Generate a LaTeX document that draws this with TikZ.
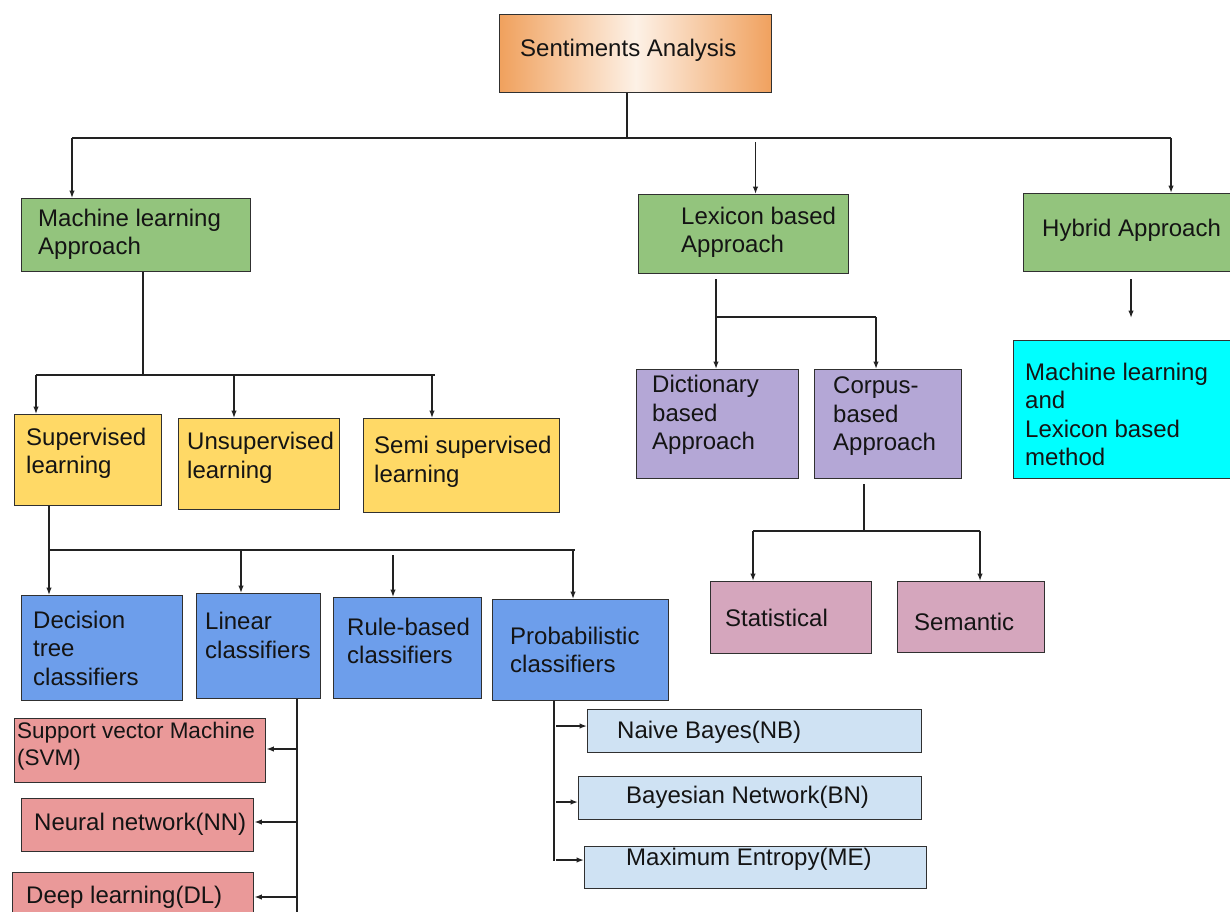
\documentclass[tikz,border=0pt]{standalone}
\usepackage{fontspec}
\setmainfont{Liberation Sans}
\usetikzlibrary{arrows.meta}

\definecolor{cOrange}{HTML}{F0A15E}
\definecolor{cOrLight}{HTML}{FDF1E6}
\definecolor{cGreen}{HTML}{93C47D}
\definecolor{cYellow}{HTML}{FFD966}
\definecolor{cBlue}{HTML}{6D9EEB}
\definecolor{cPurple}{HTML}{B4A7D6}
\definecolor{cPink}{HTML}{D5A6BD}
\definecolor{cSalmon}{HTML}{EA9999}
\definecolor{cPale}{HTML}{CFE2F3}
\definecolor{cCyan}{HTML}{00FFFF}
\definecolor{cEdge}{HTML}{303030}
\definecolor{cLine}{HTML}{222222}
\definecolor{cText}{HTML}{141414}

% a box given by its name, fill options and its corner pixels (x1,y1)-(x2,y2)
\newcommand\cbox[6]{\node[box,#2,minimum width={#5pt-#3pt},minimum height={#6pt-#4pt}] (#1) at (#3,#4) {};}

\begin{document}
\begin{tikzpicture}[x=1pt,y=-1pt,
  box/.style={draw=cEdge, line width=1.4pt, inner sep=0pt, anchor=north west},
  txt/.style={anchor=west, align=left, inner sep=0pt, text=cText,
              font=\fontsize{24}{28.5}\selectfont},
  small/.style={font=\fontsize{22.5}{27}\selectfont},
  ln/.style={draw=cLine, line width=1.4pt},
  arr/.style={ln, -{Latex[length=7.5pt,width=5.5pt]}}]

\useasboundingbox (0,0) rectangle (1230,911);
\clip (0,0) rectangle (1230,911);

% ---------- boxes ----------
\cbox{root}{left color=cOrange,right color=cOrange,middle color=cOrLight}{499}{14}{771}{92}
\cbox{ml}{fill=cGreen}{21}{198}{250}{271}
\cbox{lex}{fill=cGreen}{638}{194}{848}{273}
\cbox{hyb}{fill=cGreen}{1023}{193}{1234}{271}

\cbox{sup}{fill=cYellow}{14}{414}{161}{505}
\cbox{uns}{fill=cYellow}{178}{418}{339}{509}
\cbox{semi}{fill=cYellow}{363}{418}{559}{512}

\cbox{dict}{fill=cPurple}{636}{369}{798}{478}
\cbox{corp}{fill=cPurple}{814}{369}{961}{478}
\cbox{mix}{fill=cCyan}{1013}{340}{1234}{478}

\cbox{dec}{fill=cBlue}{21}{595}{182}{700}
\cbox{lin}{fill=cBlue}{196}{593}{320}{698}
\cbox{rule}{fill=cBlue}{333}{597}{481}{698}
\cbox{prob}{fill=cBlue}{492}{599}{668}{700}

\cbox{stat}{fill=cPink}{710}{581}{871}{653}
\cbox{sem}{fill=cPink}{897}{581}{1044}{652}

\cbox{svm}{fill=cSalmon}{14}{718}{265}{782}
\cbox{nn}{fill=cSalmon}{21}{798}{253}{851}
\cbox{dl}{fill=cSalmon}{12}{872}{253}{925}

\cbox{nb}{fill=cPale}{587}{709}{921}{752}
\cbox{bn}{fill=cPale}{578}{776}{921}{819}
\cbox{me}{fill=cPale}{584}{846}{926}{888}

% ---------- texts ----------
\node[txt] (root-t) at (520,50) {Sentiments Analysis};
\node[txt] (ml-t) at (38,234.5) {Machine learning\\Approach};
\node[txt] (lex-t) at (681,232.5) {Lexicon based\\Approach};
\node[txt] (hyb-t) at (1042,230) {Hybrid Approach};

\node[txt] (sup-t) at (26,453.5) {Supervised\\learning};
\node[txt] (uns-t) at (187,458) {Unsupervised\\learning};
\node[txt] (semi-t) at (374,462) {Semi supervised\\learning};

\node[txt] (dict-t) at (652,415) {Dictionary\\based\\Approach};
\node[txt] (corp-t) at (833,416.5) {Corpus-\\based\\Approach};
\node[txt] (mix-t) at (1025,414.5) {Machine learning\\and\\Lexicon based\\method};

\node[txt] (dec-t) at (33,648) {Decision\\tree\\classifiers};
\node[txt] (lin-t) at (205,635.5) {Linear\\classifiers};
\node[txt] (rule-t) at (347,641) {Rule-based\\classifiers};
\node[txt] (prob-t) at (510,650) {Probabilistic\\classifiers};

\node[txt] (stat-t) at (725,618) {Statistical};
\node[txt] (sem-t) at (914,622) {Semantic};

\node[txt,small] (svm-t) at (17,746.5) {Support vector Machine\\(SVM)};
\node[txt] (nn-t) at (34,824) {Neural network(NN)};
\node[txt] (dl-t) at (26,897) {Deep learning(DL)};

\node[txt] (nb-t) at (617,732) {Naive Bayes(NB)};
\node[txt] (bn-t) at (626,797) {Bayesian Network(BN)};
\node[txt] (me-t) at (626,859) {Maximum Entropy(ME)};

% ---------- top level ----------
\coordinate (j0) at (627,138);
\coordinate (t-ml) at (72,138);
\coordinate (t-hy) at (1171,138);
\coordinate (t-lx) at (755.5,142);
\draw[ln] (root.south -| j0) -- (j0);
\draw[ln] (t-ml) -- (t-hy);
\draw[arr] (t-ml) -- (t-ml |- ml.north);
\draw[arr] (t-lx) -- (t-lx |- lex.north);
\draw[arr] (t-hy) -- (t-hy |- hyb.north);

% ---------- machine learning branch ----------
\coordinate (m0) at (143,375);
\coordinate (m-sup) at (36,375);
\coordinate (m-uns) at (234,375);
\coordinate (m-semi) at (432,375);
\coordinate (m-end) at (435,375);
\draw[ln] (ml.south -| m0) -- (m0);
\draw[ln] (m-sup) -- (m-end);
\draw[arr] (m-sup) -- (m-sup |- sup.north);
\draw[arr] (m-uns) -- (m-uns |- uns.north);
\draw[arr] (m-semi) -- (m-semi |- semi.north);

% ---------- supervised learning ----------
\coordinate (s0) at (49,550);
\coordinate (s-lin) at (241,550);
\coordinate (s-rule) at (393,555);
\coordinate (s-prob) at (573,550);
\coordinate (s-end) at (575,550);
\draw[ln] (sup.south -| s0) -- (s0) -- (s-end);
\draw[arr] (s0) -- (s0 |- dec.north);
\draw[arr] (s-lin) -- (s-lin |- lin.north);
\draw[arr] (s-rule) -- (s-rule |- rule.north);
\draw[arr] (s-prob) -- (s-prob |- prob.north);

% ---------- linear classifiers ----------
\coordinate (l-end) at (297,915);
\coordinate (l1) at (297,749);
\coordinate (l2) at (297,822);
\coordinate (l3) at (297,897);
\draw[ln] (lin.south -| l-end) -- (l-end);
\draw[arr] (l1) -- (l1 -| svm.east);
\draw[arr] (l2) -- (l2 -| nn.east);
\draw[arr] (l3) -- (l3 -| dl.east);

% ---------- probabilistic classifiers ----------
\coordinate (p-end) at (554,861);
\coordinate (p1) at (556,726);
\coordinate (p2) at (556,802);
\coordinate (p3) at (556,860);
\draw[ln] (prob.south -| p-end) -- (p-end);
\draw[arr] (p1) -- (p1 -| nb.west);
\draw[arr] (p2) -- (p2 -| bn.west);
\draw[arr] (p3) -- (p3 -| me.west);

% ---------- lexicon branch ----------
\coordinate (lx0) at (716,317);
\coordinate (lx1) at (876,317);
\draw[ln] (lex.south -| lx0) ++(0,5) -- (lx0) -- (lx1);
\draw[arr] (lx0) -- (lx0 |- dict.north);
\draw[arr] (lx1) -- (lx1 |- corp.north);

% ---------- corpus-based ----------
\coordinate (c0) at (864,531);
\coordinate (cL) at (753,531);
\coordinate (cR) at (980,531);
\draw[ln] (corp.south -| c0) ++(0,5) -- (c0);
\draw[ln] (cL) -- (cR);
\draw[arr] (cL) -- (cL |- stat.north);
\draw[arr] (cR) -- (cR |- sem.north);

% ---------- hybrid ----------
\coordinate (hy1) at (1131,318);
\draw[arr] (hyb.south -| hy1) ++(0,7) -- (hy1);

\end{tikzpicture}
\end{document}
